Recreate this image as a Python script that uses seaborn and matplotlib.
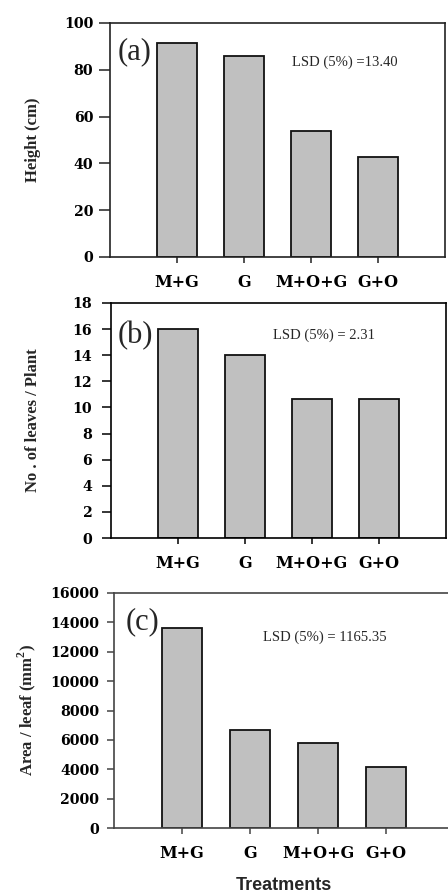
import pandas as pd
import numpy as np
import matplotlib
matplotlib.use("Agg")
import matplotlib.pyplot as plt
import seaborn as sns

# ===============================
# DATA
# ===============================
treatments = ["M+G", "G", "M+O+G", "G+O"]
height_cm = [91.3, 85.9, 53.8, 42.7]
leaves_per_plant = [16.0, 14.0, 10.64, 10.64]
area_per_leaf = [13620, 6700, 5790, 4150]

panel_labels = ["(a)", "(b)", "(c)"]
lsd_texts = ["LSD (5%) =13.40", "LSD (5%) = 2.31", "LSD (5%) = 1165.35"]
y_labels = ["Height (cm)", "No . of leaves / Plant", r"Area / leeaf (mm$^\mathbf{2}$)"]
y_ticks = [np.arange(0, 101, 20), np.arange(0, 19, 2), np.arange(0, 16001, 2000)]
x_title = "Treatments"

sns.set_style("ticks")
plt.rcParams["mathtext.fontset"] = "custom"
plt.rcParams["mathtext.bf"] = "Liberation Serif:bold"
plt.rcParams["mathtext.rm"] = "Liberation Serif"

fig = plt.figure(figsize=(4.48, 8.92), dpi=100)

# axes boxes in pixels: left, top, width, height
boxes = [(110, 23, 335, 234), (111, 303, 335, 235), (114, 593, 340, 235)]
spine_cols = ["#222222", "#000000", "#444444"]
ylab_x = [33, 33, 27]
lsd_pos = [(0.543, 0.833), (0.484, 0.862), (0.438, 0.813)]
lab_pos = [(0.024, 0.876), (0.021, 0.862), (0.035, 0.877)]
tick_len = [8, 6.5, 5]
tick_pad = [4, 7, 5.5]

datasets = [height_cm, leaves_per_plant, area_per_leaf]

for i, vals in enumerate(datasets):
    l, t, w, h = boxes[i]
    ax = fig.add_axes([l / 448, (892 - t - h) / 892, w / 448, h / 892])
    df = pd.DataFrame({"Treatment": treatments, "Value": vals})
    sns.barplot(data=df, x="Treatment", y="Value", ax=ax, color="#c0c0c0",
                saturation=1, width=0.6, edgecolor="#111111", linewidth=1.3)
    ax.set_xlim(-1, 4)
    ax.set_ylim(y_ticks[i][0], y_ticks[i][-1])
    ax.set_yticks(y_ticks[i])
    ax.set_xlabel("")
    ax.set_ylabel("")
    for s in ax.spines.values():
        s.set_visible(True)
        s.set_color(spine_cols[i])
        s.set_linewidth(1.2)
    ax.tick_params(axis="y", direction="out", length=tick_len[i], width=1.1,
                   pad=tick_pad[i], colors=spine_cols[i], labelcolor="black")
    ax.tick_params(axis="x", direction="out", length=4, width=1.1, pad=8,
                   colors=spine_cols[i], labelcolor="black")
    for lab in ax.get_yticklabels():
        lab.set_fontfamily("DejaVu Serif")
        lab.set_fontweight("bold")
        lab.set_fontsize(10.2)
    for lab in ax.get_xticklabels():
        lab.set_fontfamily("DejaVu Serif")
        lab.set_fontweight("bold")
        lab.set_fontsize(11.5)
    ax.text(lab_pos[i][0], lab_pos[i][1], panel_labels[i], transform=ax.transAxes,
            family="Liberation Serif", fontsize=22, ha="left", va="center")
    ax.text(lsd_pos[i][0], lsd_pos[i][1], lsd_texts[i], transform=ax.transAxes,
            family="Liberation Serif", fontsize=10.5, ha="left", va="center")
    fig.text(ylab_x[i] / 448, (892 - t - h / 2) / 892, y_labels[i], rotation=90,
             family="Liberation Serif", fontweight="bold", fontsize=12,
             ha="center", va="center")

fig.text(284 / 448, (892 - 885) / 892, x_title, family="Liberation Sans",
         fontweight="bold", fontsize=13, ha="center", va="center")

plt.savefig("out.png", dpi=100)
plt.close()
